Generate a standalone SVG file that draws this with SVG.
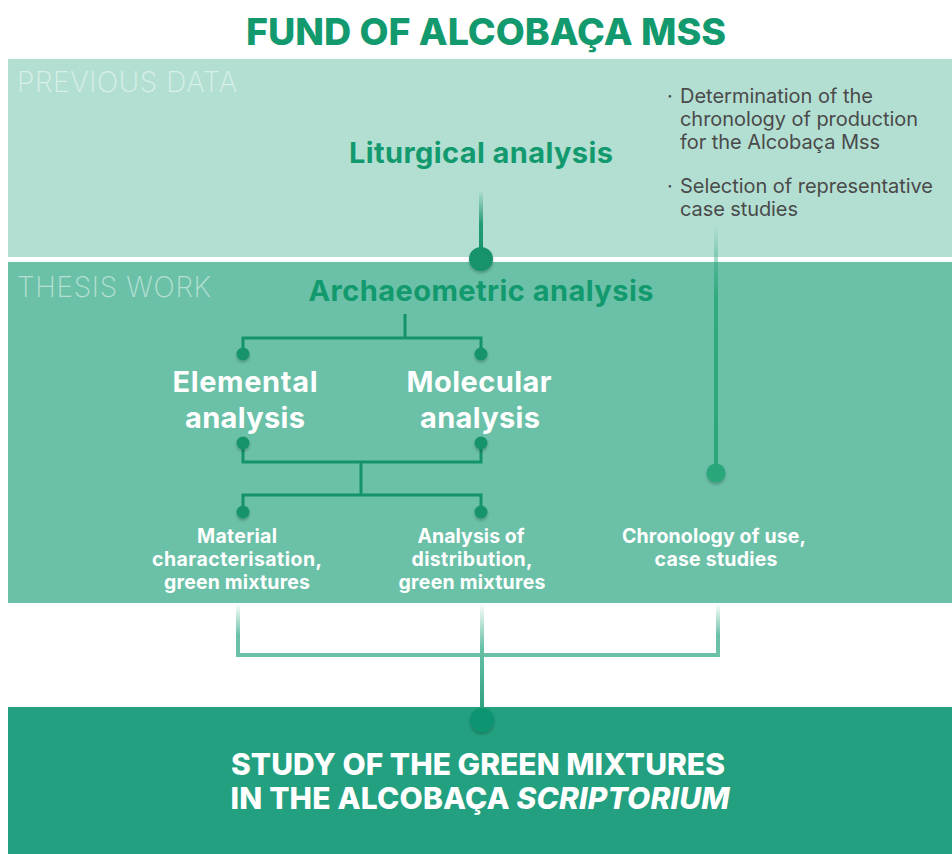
<svg xmlns="http://www.w3.org/2000/svg" width="952" height="854" viewBox="0 0 952 854">
<defs>
<style>
.t{font-family:Inter,"Noto Sans","Liberation Sans",sans-serif;}
.title{font-size:37px;font-weight:800;fill:#129a6e;}
.band{font-size:28px;font-weight:200;fill:#ffffff;fill-opacity:0.5;}
.green{font-size:29px;font-weight:700;fill:#129a6e;}
.white{font-size:29px;font-weight:700;fill:#ffffff;}
.small{font-size:19.5px;font-weight:700;fill:#ffffff;}
.note{font-size:20px;font-weight:400;fill:#4a4a4a;}
.big{font-size:30px;font-weight:800;fill:#ffffff;}
.br{fill:none;stroke:#14936a;stroke-width:3;}
.dot{fill:#14936a;filter:url(#sh);}
</style>
<filter id="sh" x="-50%" y="-50%" width="200%" height="200%">
<feDropShadow dx="0" dy="2" stdDeviation="1.5" flood-color="#000" flood-opacity="0.25"/>
</filter>
<linearGradient id="gv1" x1="0" y1="0" x2="0" y2="1">
<stop offset="0" stop-color="#14936a" stop-opacity="0"/>
<stop offset="0.5" stop-color="#14936a" stop-opacity="0.9"/>
<stop offset="1" stop-color="#14936a"/>
</linearGradient>
<linearGradient id="gv2" x1="0" y1="0" x2="0" y2="1">
<stop offset="0" stop-color="#2aa77a" stop-opacity="0"/>
<stop offset="0.3" stop-color="#2aa77a" stop-opacity="0.9"/>
<stop offset="1" stop-color="#2aa77a"/>
</linearGradient>
<linearGradient id="gv3" x1="0" y1="0" x2="0" y2="1">
<stop offset="0" stop-color="#6bc1a8" stop-opacity="0"/>
<stop offset="0.6" stop-color="#6bc1a8"/>
<stop offset="1" stop-color="#6bc1a8"/>
</linearGradient>
<linearGradient id="gv4" x1="0" y1="0" x2="0" y2="1">
<stop offset="0" stop-color="#6bc1a8" stop-opacity="0"/>
<stop offset="0.4" stop-color="#6bc1a8"/>
<stop offset="1" stop-color="#2a9f7c"/>
</linearGradient>
</defs>
<rect width="952" height="854" fill="#ffffff"/>
<text class="t title" x="486" y="45" text-anchor="middle" textLength="480" lengthAdjust="spacingAndGlyphs">FUND OF ALCOBAÇA MSS</text>
<rect id="band-previous" x="8" y="59" width="944" height="198" fill="#b3dfd3"/>
<rect id="band-thesis" x="8" y="262" width="944" height="341" fill="#6bc1a8"/>
<rect id="band-result" x="8" y="707" width="944" height="147" fill="#22a07f"/>
<text class="t band" x="17" y="92" textLength="220">PREVIOUS DATA</text>
<text class="t band" x="17" y="297" textLength="194">THESIS WORK</text>
<g id="connectors">
<rect x="479" y="190" width="4" height="68" fill="url(#gv1)"/>
<rect x="714" y="225" width="4" height="248" fill="url(#gv2)"/>
<path class="br" d="M405 314 V338 M243 354 V338 H481 V354"/>
<path class="br" d="M243 443 V462 H481 V443 M361 462 V495 M243 512 V495 H481 V512"/>
<rect x="236" y="603" width="4" height="54" fill="url(#gv3)"/>
<rect x="716" y="603" width="4" height="54" fill="url(#gv3)"/>
<rect x="236" y="653" width="484" height="4" fill="#6bc1a8"/>
<rect x="480" y="603" width="4" height="110" fill="url(#gv4)"/>
<circle class="dot" cx="481" cy="259" r="12"/>
<circle class="dot" cx="243" cy="354" r="6.5"/>
<circle class="dot" cx="481" cy="354" r="6.5"/>
<circle class="dot" cx="243" cy="443" r="6.5"/>
<circle class="dot" cx="481" cy="443" r="6.5"/>
<circle class="dot" cx="243" cy="512" r="6.5"/>
<circle class="dot" cx="481" cy="512" r="6.5"/>
<circle cx="716" cy="473" r="9.5" fill="#2aa77a" filter="url(#sh)"/>
<circle class="dot" cx="482" cy="720" r="12" style="fill:#0f9470"/>
</g>
<g id="liturgical"><text class="t green" x="481" y="163" text-anchor="middle" textLength="264">Liturgical analysis</text></g>
<g id="previous-notes">
<text class="t note" x="667" y="103">·</text>
<text class="t note" x="680" y="103" textLength="193">Determination of the</text>
<text class="t note" x="680" y="126" textLength="238">chronology of production</text>
<text class="t note" x="680" y="149" textLength="200">for the Alcobaça Mss</text>
<text class="t note" x="667" y="193">·</text>
<text class="t note" x="680" y="193" textLength="253">Selection of representative</text>
<text class="t note" x="680" y="216" textLength="118">case studies</text>
</g>
<g id="archaeometric"><text class="t green" x="481" y="301" text-anchor="middle" textLength="345">Archaeometric analysis</text></g>
<g id="elemental"><text class="t white" x="245" y="392" text-anchor="middle" textLength="145">Elemental</text><text class="t white" x="245" y="428" text-anchor="middle" textLength="120">analysis</text></g>
<g id="molecular"><text class="t white" x="479" y="392" text-anchor="middle" textLength="145">Molecular</text><text class="t white" x="480" y="428" text-anchor="middle" textLength="120">analysis</text></g>
<g id="material"><text class="t small" x="237" y="543" text-anchor="middle" textLength="80">Material</text><text class="t small" x="237" y="566" text-anchor="middle" textLength="170">characterisation,</text><text class="t small" x="237" y="589" text-anchor="middle" textLength="146">green mixtures</text></g>
<g id="distribution"><text class="t small" x="471" y="543" text-anchor="middle" textLength="107">Analysis of</text><text class="t small" x="472" y="566" text-anchor="middle" textLength="121">distribution,</text><text class="t small" x="472" y="589" text-anchor="middle" textLength="147">green mixtures</text></g>
<g id="chronology"><text class="t small" x="714" y="543" text-anchor="middle" textLength="184">Chronology of use,</text><text class="t small" x="716" y="566" text-anchor="middle" textLength="123">case studies</text></g>
<g id="result">
<text class="t big" x="478" y="775" text-anchor="middle" textLength="494">STUDY OF THE GREEN MIXTURES</text>
<text class="t big" x="480" y="809" text-anchor="middle" textLength="499">IN THE ALCOBAÇA <tspan font-style="italic">SCRIPTORIUM</tspan></text>
</g>
</svg>
